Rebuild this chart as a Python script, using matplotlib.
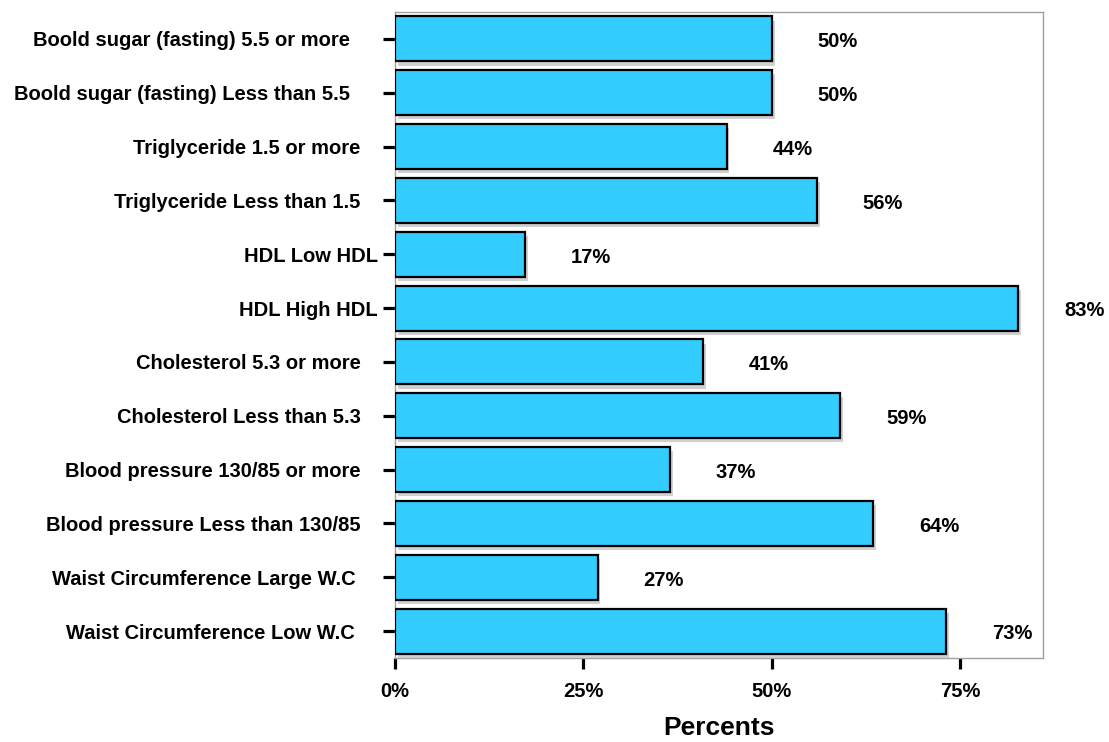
import matplotlib
matplotlib.use("Agg")
import matplotlib.pyplot as plt
import matplotlib.patheffects as pe
from matplotlib.ticker import FuncFormatter

# Category labels (top to bottom) and their percentages
categories = [
    "Boold sugar (fasting) 5.5 or more     ",
    "Boold sugar (fasting) Less than 5.5     ",
    "Triglyceride 1.5 or more   ",
    "Triglyceride Less than 1.5   ",
    "HDL Low HDL",
    "HDL High HDL",
    "Cholesterol 5.3 or more   ",
    "Cholesterol Less than 5.3   ",
    "Blood pressure 130/85 or more   ",
    "Blood pressure Less than 130/85   ",
    "Waist Circumference Large W.C    ",
    "Waist Circumference Low W.C    ",
]
percents = [50.0, 50.0, 44.0, 56.0, 17.3, 82.7, 40.9, 59.1, 36.5, 63.5, 26.9, 73.1]
x_ticks = [0, 25, 50, 75]

plt.rcParams["font.family"] = ["Liberation Sans", "DejaVu Sans"]
plt.rcParams["font.weight"] = "bold"

fig = plt.figure(figsize=(11.09, 7.42), dpi=100)
ax = fig.add_axes([0.3562, 0.1132, 0.5843, 0.8706])

n = len(categories)
ypos = [n - 1 - i for i in range(n)]

bars = ax.barh(ypos, percents, height=0.835, color="#33CCFF",
               edgecolor="black", linewidth=1.6, zorder=3)
for b in bars:
    b.set_path_effects([
        pe.SimplePatchShadow(offset=(2, -3), shadow_rgbFace="#d0d0d0", alpha=1.0),
        pe.Normal(),
    ])

for y, v in zip(ypos, percents):
    ax.annotate(f"{int(v + 0.5)}%", xy=(v, y), xytext=(33, -2),
                textcoords="offset points", ha="left", va="center",
                fontsize=14.5, fontweight="bold", color="black",
                annotation_clip=False)

ax.set_xlim(0, 86)
ax.set_ylim(-0.5, n - 0.5)
ax.set_yticks(ypos)
ax.set_yticklabels(categories, fontsize=14.5, fontweight="bold")
ax.set_xticks(x_ticks)
ax.xaxis.set_major_formatter(FuncFormatter(lambda v, p: f"{v:.0f}%"))
for lab in ax.get_xticklabels():
    lab.set_fontsize(14.5)
    lab.set_fontweight("bold")

ax.tick_params(axis="y", length=9, width=2.3, pad=3.5, color="black")
ax.tick_params(axis="x", length=8, width=2.3, pad=9, color="black")

for s in ax.spines.values():
    s.set_color("#a0a0a0")
    s.set_linewidth(1.0)

ax.set_xlabel("Percents", fontsize=19, fontweight="bold", labelpad=11)

fig.savefig("out.png", dpi=100, facecolor="white")
